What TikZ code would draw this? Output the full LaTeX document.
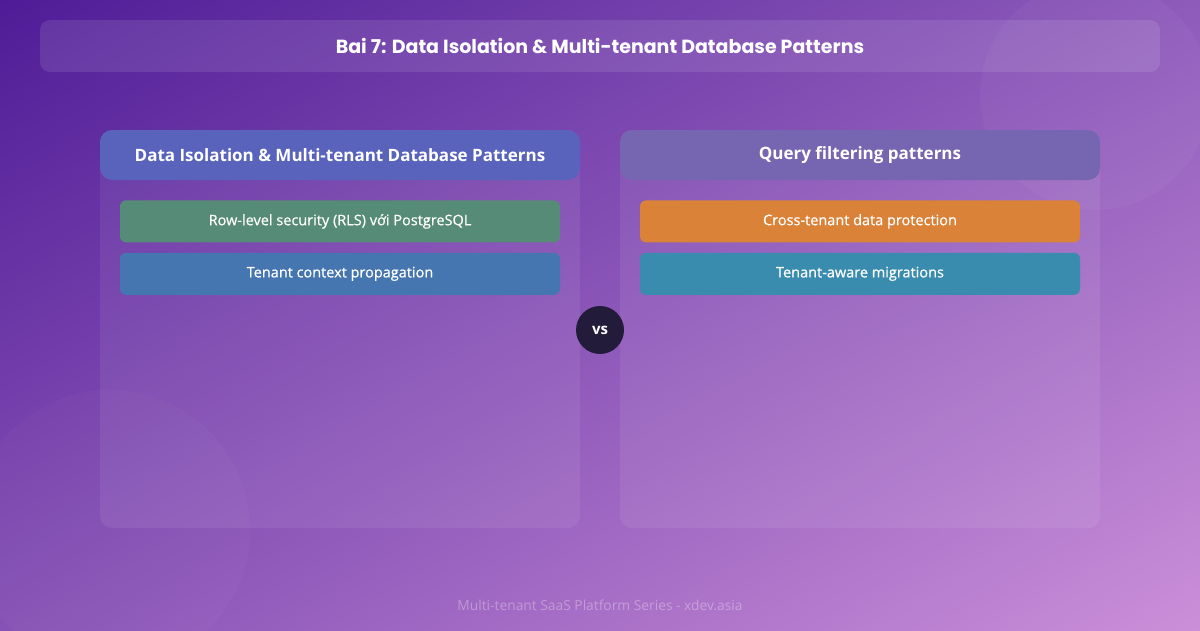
\documentclass[tikz,border=0pt]{standalone}
\usepackage{fontspec}
\setmainfont{Open Sans}
\newfontfamily\titlefont{Poppins}
\newfontfamily\itemfont[FakeBold=0.6]{Open Sans}
\usetikzlibrary{positioning, shadings}

\definecolor{bgTL}{HTML}{4F1C97}
\definecolor{bgTR}{HTML}{8E5BBB}
\definecolor{bgBL}{HTML}{8752B6}
\definecolor{bgBR}{HTML}{CB8FD9}
\definecolor{hdrLeft}{HTML}{5A63BB}
\definecolor{hdrRight}{HTML}{7666B2}
\definecolor{rowGreen}{HTML}{568B77}
\definecolor{rowBlue}{HTML}{4676B0}
\definecolor{rowOrange}{HTML}{D98238}
\definecolor{rowTeal}{HTML}{3A8CAE}
\definecolor{vsDark}{HTML}{221B3A}

\begin{document}
\begin{tikzpicture}[x=1pt,y=-1pt,
  titlebar/.style={rounded corners=10pt, minimum width=1120pt, minimum height=52pt,
    fill=white, fill opacity=0.1, text opacity=1, text=white,
    font=\titlefont\bfseries\fontsize{19}{22}\selectfont},
  panel/.style={rounded corners=12pt, minimum width=480pt, minimum height=398pt,
    fill=white, fill opacity=0.07},
  header/.style={rounded corners=12pt, minimum width=480pt, minimum height=50pt,
    text=white, font=\bfseries\fontsize{17}{20}\selectfont},
  item/.style={rounded corners=6pt, minimum width=440pt, minimum height=42pt,
    text=white, font=\itemfont\fontsize{14.5}{17}\selectfont},
  vsbadge/.style={circle, minimum size=48pt, fill=vsDark, text=white,
    font=\bfseries\fontsize{15}{17}\selectfont}]

\useasboundingbox (0,0) rectangle (1200,630);
\shade[upper left=bgTL, upper right=bgTR, lower left=bgBL, lower right=bgBR]
  (0,0) rectangle (1200,630);
\fill[white, opacity=0.035] (1095,95) circle (115pt);
\fill[white, opacity=0.025] (110,530) circle (140pt);

\node[titlebar] (title) at (600,46) {Bai 7: Data Isolation \& Multi-tenant Database Patterns};

\node[panel] (lpanel) at (340,329) {};
\node[panel] (rpanel) at (860,329) {};

\node[header, fill=hdrLeft, anchor=north] (lhead) at (lpanel.north) {Data Isolation \& Multi-tenant Database Patterns};
\node[item, fill=rowGreen, below=20pt of lhead] (rls) {Row-level security (RLS) với PostgreSQL};
\node[item, fill=rowBlue, below=10pt of rls] (context) {Tenant context propagation};

\node[header, fill=hdrRight, anchor=north] (rhead) at (rpanel.north) {Query filtering patterns};
\node[item, fill=rowOrange, below=20pt of rhead] (protect) {Cross-tenant data protection};
\node[item, fill=rowTeal, below=10pt of protect] (migrate) {Tenant-aware migrations};

\node[vsbadge] (vs) at (600,330) {vs};

\node[text=white, text opacity=0.32, font=\fontsize{13.8}{16}\selectfont] (footer) at (600,605) {Multi-tenant SaaS Platform Series - xdev.asia};
\end{tikzpicture}
\end{document}
